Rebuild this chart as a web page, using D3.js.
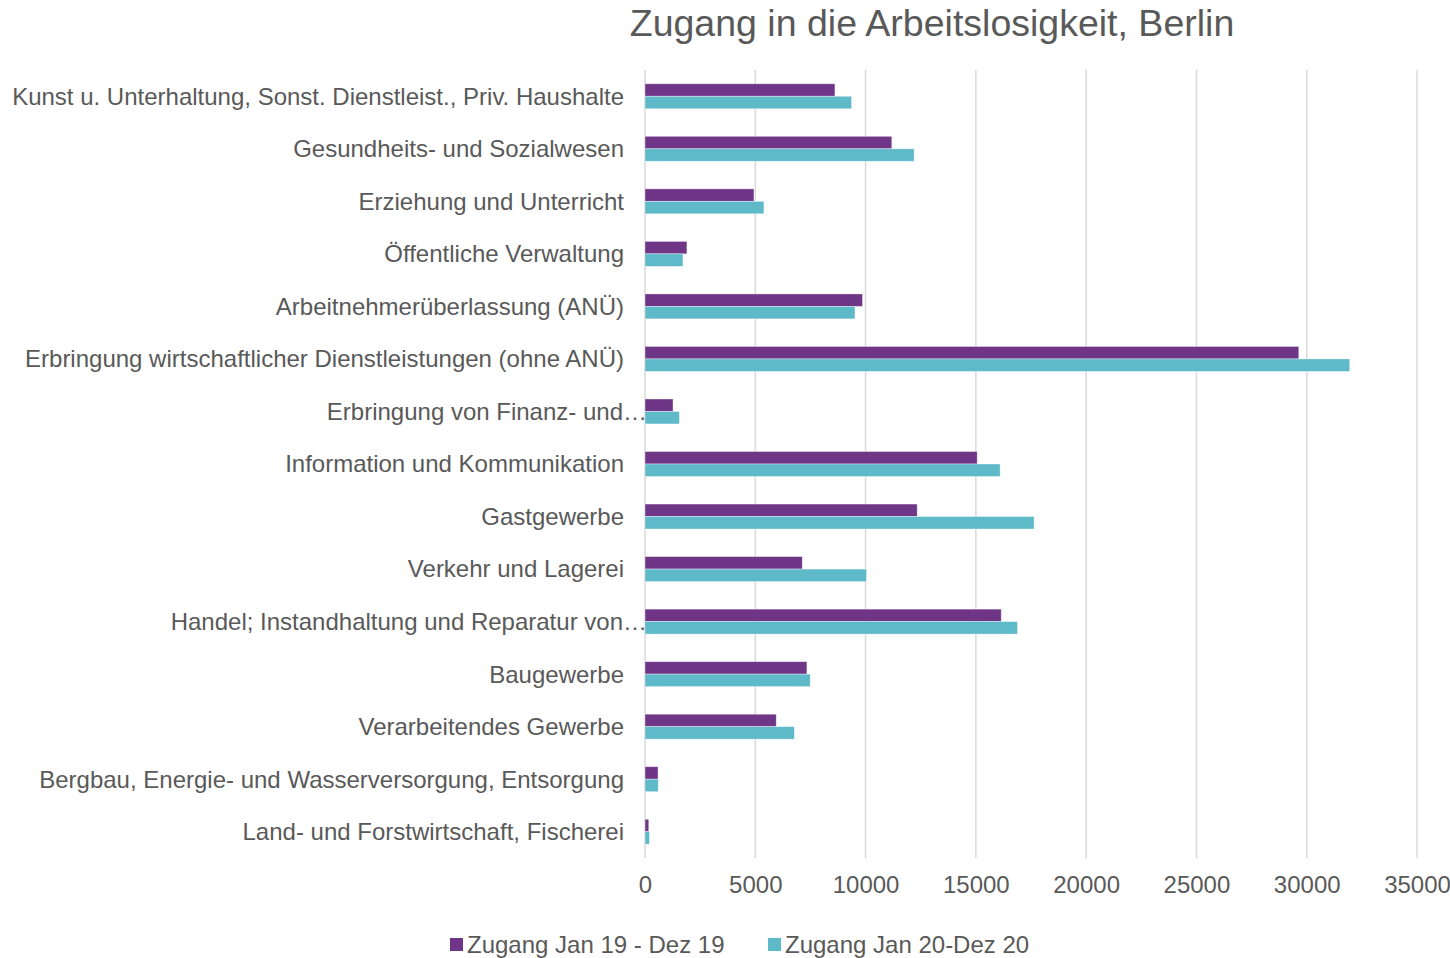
<!DOCTYPE html>
<html><head><meta charset="utf-8">
<script src="https://cdn.jsdelivr.net/npm/d3@7"></script>
<style>
body{margin:0;background:#fff;}
text{font-family:"Liberation Sans",Arial,sans-serif;fill:#595959;}
</style></head>
<body><svg id="c" width="1450" height="958"></svg>
<script>
const categories = [
  "Kunst u. Unterhaltung, Sonst. Dienstleist., Priv. Haushalte",
  "Gesundheits- und Sozialwesen",
  "Erziehung und Unterricht",
  "Öffentliche Verwaltung",
  "Arbeitnehmerüberlassung (ANÜ)",
  "Erbringung wirtschaftlicher Dienstleistungen (ohne ANÜ)",
  "Erbringung von Finanz- und…",
  "Information und Kommunikation",
  "Gastgewerbe",
  "Verkehr und Lagerei",
  "Handel; Instandhaltung und Reparatur von…",
  "Baugewerbe",
  "Verarbeitendes Gewerbe",
  "Bergbau, Energie- und Wasserversorgung, Entsorgung",
  "Land- und Forstwirtschaft, Fischerei"
];
const truncated = [false,false,false,false,false,false,true,false,false,false,true,false,false,false,false];
const zugang19 = [8610, 11190, 4940, 1900, 9860, 29640, 1270, 15060, 12340, 7130, 16150, 7340, 5950, 590, 170];
const zugang20 = [9365, 12200, 5390, 1720, 9520, 31950, 1560, 16100, 17640, 10040, 16890, 7490, 6770, 600, 200];
const seriesNames = ["Zugang Jan 19 - Dez 19", "Zugang Jan 20-Dez 20"];
const seriesColors = ["#6F3587", "#5EB9C9"];
const xTicks = [0,5000,10000,15000,20000,25000,30000,35000];
const title = "Zugang in die Arbeitslosigkeit, Berlin";

const svg = d3.select("#c");
const pL = 645, pR = 1417, pT = 70, pB = 858;
const x = d3.scaleLinear().domain([0,35000]).range([pL,pR]);
const y = d3.scaleBand().domain(categories).range([pT,pB]).paddingInner(0.525).paddingOuter(0.2625);
const inner = d3.scaleBand().domain([0,1]).range([0,y.bandwidth()]);

// gridlines
svg.append("g").selectAll("line").data(xTicks).join("line")
  .attr("x1",d=>x(d)).attr("x2",d=>x(d)).attr("y1",pT).attr("y2",pB)
  .attr("stroke","#d9d9d9").attr("stroke-width",1.5);

// bars
const series = [zugang19, zugang20];
series.forEach((vals,si)=>{
  svg.append("g").selectAll("rect").data(vals).join("rect")
    .attr("x",x(0))
    .attr("y",(d,i)=>y(categories[i])+inner(si))
    .attr("width",d=>x(d)-x(0))
    .attr("height",inner.bandwidth())
    .attr("fill",seriesColors[si])
    .attr("stroke","#fff").attr("stroke-opacity",0.5).attr("stroke-width",0.75);
});

// category labels
svg.append("g").selectAll("text").data(categories).join("text")
  .attr("x",(d,i)=>truncated[i]?pL+2:624)
  .attr("y",d=>y(d)+y.bandwidth()/2)
  .attr("dy","0.35em")
  .attr("text-anchor","end")
  .style("font-size","24px")
  .text(d=>d);

// x axis tick labels
const xAxis = d3.axisBottom(x).tickValues(xTicks).tickSize(0).tickPadding(0).tickFormat(d3.format("d"));
const gx = svg.append("g").attr("transform",`translate(0,${pB+18})`).call(xAxis);
gx.select(".domain").remove();
gx.selectAll("text").style("font-size","24px").attr("fill","#595959").attr("font-family","Liberation Sans, Arial, sans-serif");

// title
svg.append("text").attr("x",932).attr("y",36).attr("text-anchor","middle")
  .style("font-size","37.5px").text(title);

// legend
const legendX = [450, 768];
seriesNames.forEach((n,i)=>{
  svg.append("rect").attr("x",legendX[i]).attr("y",938).attr("width",13).attr("height",13).attr("fill",seriesColors[i]);
  svg.append("text").attr("x",legendX[i]+17).attr("y",945).attr("dy","0.35em").style("font-size","24px").text(n);
});
</script></body></html>
